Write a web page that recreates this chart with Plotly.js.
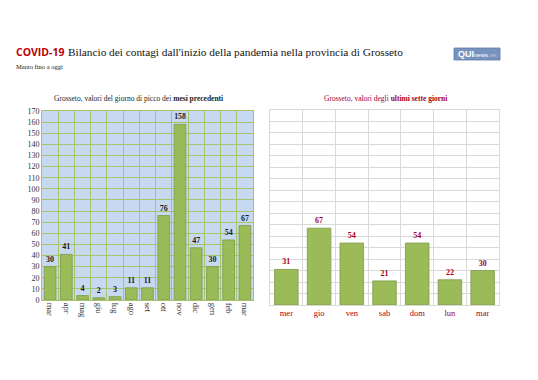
<!DOCTYPE html>
<html>
<head>
<meta charset="utf-8">
<script src="https://cdn.plot.ly/plotly-3.0.1.min.js"></script>
<style>html,body{margin:0;padding:0;background:#fff;}#chart{width:538px;height:380px;}</style>
</head>
<body>
<div id="chart"></div>
<script>
// Data
var monthLabels = ["mar","apr","mag","giu","lug","ago","set","ott","nov","dic","gen","feb","mar "];
var monthValues = [30,41,4,2,3,11,11,76,158,47,30,54,67];
var dayLabels = ["mer","gio","ven","sab","dom","lun","mar"];
var dayValues = [31,67,54,21,54,22,30];

var W = 538, H = 380;
function px(x){return x/W;}
function py(y){return 1 - y/H;}

var serif = "Liberation Serif, Times New Roman, serif";
var darkRed = "#a5001e";
var barFill = "#9bbb59";
var barLine = "#7e9a45";

var traces = [
  {
    type: "bar", x: monthLabels, y: monthValues, xaxis: "x", yaxis: "y",
    marker: {color: barFill, line: {color: barLine, width: 0.8}},
    text: monthValues.map(String), textposition: "outside", cliponaxis: false,
    textfont: {family: serif, size: 8, color: "#1a1a1a", weight: "bold"},
    hoverinfo: "none"
  },
  {
    type: "bar", x: dayLabels, y: dayValues, xaxis: "x2", yaxis: "y2",
    marker: {color: barFill, line: {color: barLine, width: 0.8}},
    text: dayValues.map(String), textposition: "outside", cliponaxis: false,
    textfont: {family: serif, size: 8, color: darkRed, weight: "bold"},
    hoverinfo: "none"
  }
];

var layout = {
  width: W, height: H,
  margin: {l: 0, r: 0, t: 0, b: 0},
  paper_bgcolor: "#ffffff",
  showlegend: false,
  bargap: 0.28,
  font: {family: serif, color: "#333"},
  xaxis: {
    domain: [px(42), px(253)], anchor: "y",
    type: "category", tickson: "boundaries",
    ticks: "outside", ticklen: 3, tickcolor: "rgba(0,0,0,0)",
    showgrid: true, gridcolor: "#a6c46b", gridwidth: 1,
    tickangle: 90, tickfont: {family: serif, size: 8.5, color: "#333"},
    showline: true, linecolor: "#a6c46b", mirror: true,
    fixedrange: true
  },
  yaxis: {
    domain: [py(300), py(111)], anchor: "x",
    range: [0, 170], dtick: 10, tick0: 0,
    showgrid: true, gridcolor: "#a6c46b", gridwidth: 1,
    zeroline: false, ticks: "",
    tickfont: {family: serif, size: 8, color: "#333"},
    showline: true, linecolor: "#a6c46b", mirror: true,
    fixedrange: true
  },
  xaxis2: {
    domain: [px(270), px(499)], anchor: "y2",
    type: "category", tickson: "boundaries",
    ticks: "outside", ticklen: 3, tickcolor: "rgba(0,0,0,0)",
    showgrid: true, gridcolor: "#d9d9d9", gridwidth: 1,
    tickfont: {family: serif, size: 8.5, color: darkRed},
    showline: true, linecolor: "#d9d9d9", mirror: true,
    fixedrange: true
  },
  yaxis2: {
    domain: [py(305), py(110)], anchor: "x2",
    range: [0, 170], dtick: 10, tick0: 0,
    showgrid: true, gridcolor: "#d9d9d9", gridwidth: 1,
    zeroline: false, showticklabels: false, ticks: "",
    showline: true, linecolor: "#d9d9d9", mirror: true,
    fixedrange: true
  },
  shapes: [
    {type: "rect", xref: "paper", yref: "paper",
     x0: px(42), x1: px(253), y0: py(300), y1: py(111),
     fillcolor: "#c6d9f1", line: {width: 0}, layer: "below"},
    {type: "rect", xref: "paper", yref: "paper",
     x0: px(454), x1: px(500), y0: py(60), y1: py(48),
     fillcolor: "#7893bf", line: {color: "#5f7aa6", width: 0.8}, layer: "above"}
  ],
  annotations: [
    {xref: "paper", yref: "paper", x: px(14), y: py(52), xanchor: "left", yanchor: "middle",
     text: "<b>COVID-19</b>", showarrow: false,
     font: {family: "Open Sans, Liberation Sans, sans-serif", size: 10.5, color: "#c00000"}},
    {xref: "paper", yref: "paper", x: px(66), y: py(52), xanchor: "left", yanchor: "middle",
     text: "Bilancio dei contagi dall'inizio della pandemia nella provincia di Grosseto", showarrow: false,
     font: {family: serif, size: 11.3, color: "#111"}},
    {xref: "paper", yref: "paper", x: px(14), y: py(66), xanchor: "left", yanchor: "middle",
     text: "Marzo fino a oggi", showarrow: false,
     font: {family: serif, size: 6.5, color: "#111"}},
    {xref: "paper", yref: "paper", x: px(138), y: py(98), xanchor: "center", yanchor: "middle",
     text: "Grosseto, valori del giorno di picco dei <b>mesi precedenti</b>", showarrow: false,
     font: {family: serif, size: 7.5, color: "#222"}},
    {xref: "paper", yref: "paper", x: px(385), y: py(98), xanchor: "center", yanchor: "middle",
     text: "Grosseto, valori degli <b>ultimi sette giorni</b>", showarrow: false,
     font: {family: serif, size: 7.5, color: darkRed}},
    {xref: "paper", yref: "paper", x: px(456), y: py(54), xanchor: "left", yanchor: "middle",
     text: "<b>QUI</b><span style='font-size:6px'>news</span><span style='font-size:5px;color:#b8c8e0'>.net</span>", showarrow: false,
     font: {family: "Liberation Sans, sans-serif", size: 9, color: "#ffffff"}}
  ]
};

Plotly.newPlot("chart", traces, layout, {displayModeBar: false, staticPlot: true});
</script>
</body>
</html>
